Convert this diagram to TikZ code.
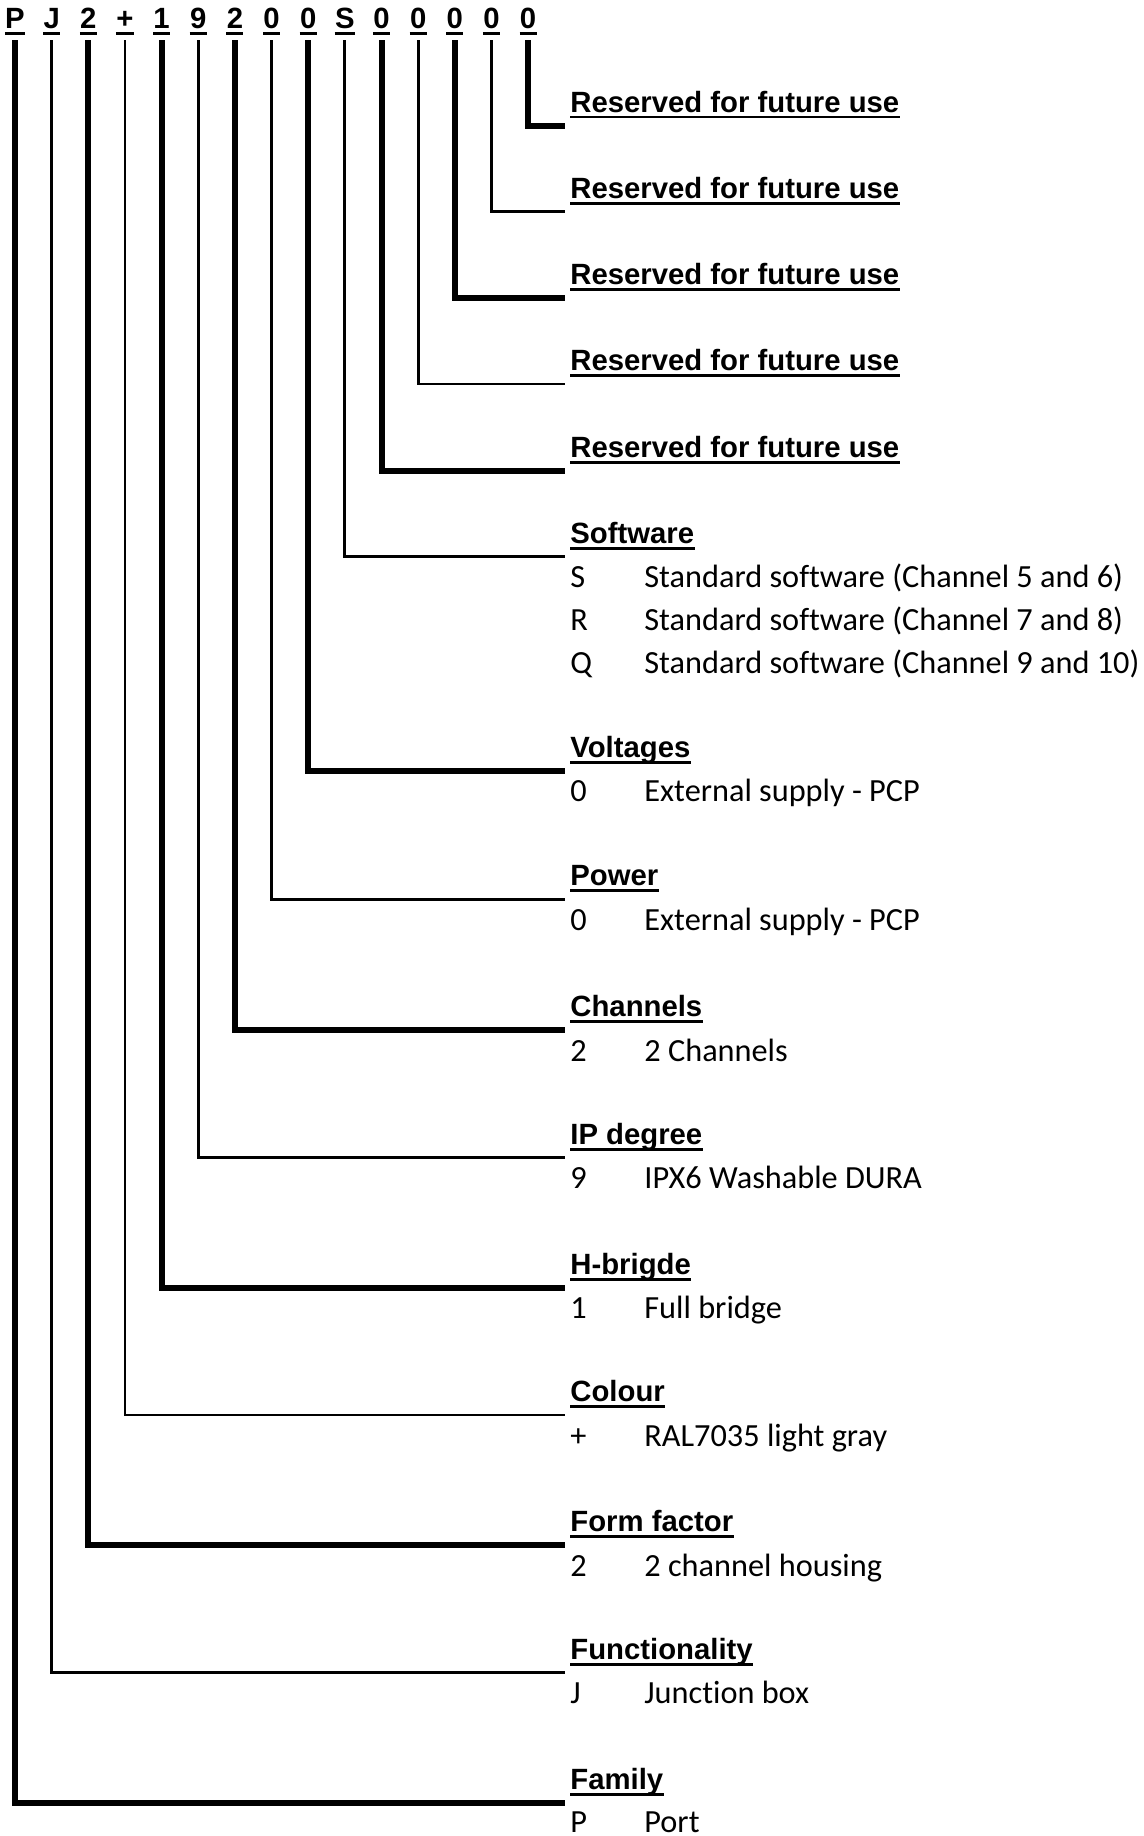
\documentclass[tikz,border=0pt]{standalone}
\usepackage{fontspec}
\setmainfont{Carlito}[Ligatures=NoCommon]
\newfontfamily\hdrfont{Liberation Sans}
\begin{document}
\begin{tikzpicture}[x=0.5pt,y=-0.5pt,
  hdr/.style={font=\hdrfont\bfseries\fontsize{14.65}{17}\selectfont, inner sep=0pt, anchor=base west},
  codechar/.style={font=\hdrfont\bfseries\fontsize{14.65}{17}\selectfont, inner sep=0pt, anchor=base},
  body/.style={font=\fontsize{16.15}{19}\selectfont, inner sep=0pt, anchor=base west},
  ul/.style={line width=1.4pt},
  thickln/.style={line width=3pt, line join=miter},
  thinln/.style={line width=1.4pt, line join=miter}
]
\useasboundingbox (0,0) rectangle (1144,1836);
% code characters
\foreach \i/\c in {0/P,1/J,2/2,3/+,4/1,5/9,6/2,7/0,8/0,9/S,10/0,11/0,12/0,13/0,14/0}{
  \node[codechar] (c\i) at ({15+36.65*\i},28.5) {\c};
  \draw[ul] ([yshift=-2.6pt]c\i.base west) -- ([yshift=-2.6pt]c\i.base east);
  \coordinate (t\i) at ({15+36.65*\i},40);
}
% headers and connectors
\foreach \i/\y/\t/\w in {
  14/125.5/Reserved for future use/thickln,
  13/211.7/Reserved for future use/thinln,
  12/298/Reserved for future use/thickln,
  11/384/Reserved for future use/thinln,
  10/470.7/Reserved for future use/thickln,
  9/556.7/Software/thinln,
  8/770.7/Voltages/thickln,
  7/899.3/Power/thinln,
  6/1030/Channels/thickln,
  5/1157.7/IP degree/thinln,
  4/1287.7/H-brigde/thickln,
  3/1415/Colour/thinln,
  2/1545/Form factor/thickln,
  1/1672.7/Functionality/thinln,
  0/1803/Family/thickln}{
  \node[hdr] (h\i) at (570,{\y-13.5}) {\t};
  \draw[ul] ([yshift=-2.5pt]h\i.base west) -- ([yshift=-2.5pt]h\i.base east);
  \coordinate (e\i) at (565,\y);
  \draw[\w] (t\i) |- (e\i);
}
% body rows
\foreach \n/\y/\k/\d in {
  9a/587.7/S/Standard software (Channel 5 and 6),
  9b/630.7/R/Standard software (Channel 7 and 8),
  9c/673.7/Q/Standard software (Channel 9 and 10),
  8a/801.7/0/External supply - PCP,
  7a/930.3/0/External supply - PCP,
  6a/1061/2/2 Channels,
  5a/1188.7/9/IPX6 Washable DURA,
  4a/1318.7/1/Full bridge,
  3a/1446/+/RAL7035 light gray,
  2a/1576/2/2 channel housing,
  1a/1703.7/J/Junction box,
  0a/1832.5/P/Port}{
  \node[body] (k\n) at (570,\y) {\k};
  \node[body] (d\n) at (644,\y) {\d};
}
\end{tikzpicture}
\end{document}
